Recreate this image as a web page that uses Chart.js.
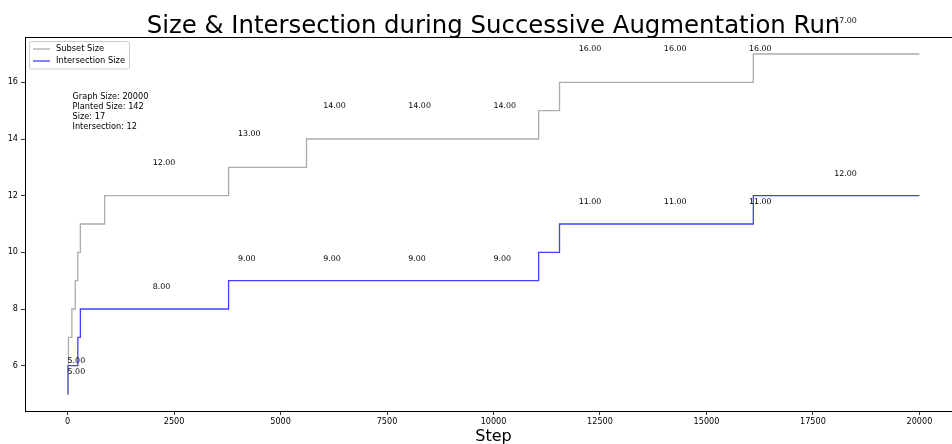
<!DOCTYPE html>
<html>
<head>
<meta charset="utf-8">
<script src="https://cdn.jsdelivr.net/npm/chart.js@4.4.0/dist/chart.umd.min.js"></script>
<style>
html,body{margin:0;padding:0;background:#fff;overflow:hidden;}
#wrap{width:952px;height:444px;overflow:hidden;position:relative;}
canvas{display:block;}
</style>
</head>
<body>
<div id="wrap"><canvas id="c" width="1000" height="444"></canvas></div>
<script>
// ---- data ----
const subsetSteps = [0, 10, 20, 100, 180, 240, 300, 870, 3780, 5610, 11060, 11550, 16100, 20000];
const subsetSizes = [5, 6, 7, 8, 9, 10, 11, 12, 13, 14, 15, 16, 17, 17];
const interSteps  = [0, 10, 240, 300, 3780, 11060, 11550, 16100, 20000];
const interSizes  = [5, 6, 7, 8, 9, 10, 11, 12, 12];
const annotSteps  = [0, 2000, 4000, 6000, 8000, 10000, 12000, 14000, 16000, 18000];
const subsetAnnot = [5, 12, 13, 14, 14, 14, 16, 16, 16, 17];
const interAnnot  = [5, 8, 9, 9, 9, 9, 11, 11, 11, 12];
const xTickVals = [0, 2500, 5000, 7500, 10000, 12500, 15000, 17500, 20000];
const yTickVals = [6, 8, 10, 12, 14, 16];
const infoLines = ["Graph Size: 20000", "Planted Size: 142", "Size: 17", "Intersection: 12"];
const titleText = "Size & Intersection during Successive Augmentation Run";
const xLabel = "Step";

const FONT = "'DejaVu Sans', sans-serif";
const GRAY = "rgba(128,128,128,0.65)";
const BLUE = "rgba(0,0,255,0.75)";

const overlay = {
  id: 'overlay',
  afterDatasetsDraw(chart) {
    const ctx = chart.ctx;
    const xs = chart.scales.x, ys = chart.scales.y;
    const a = chart.chartArea;
    ctx.save();
    // frame
    ctx.strokeStyle = '#000';
    ctx.lineWidth = 1;
    ctx.strokeRect(a.left + 0.5, a.top + 0.5, a.right - a.left, a.bottom - a.top);
    // annotations
    ctx.fillStyle = '#000';
    ctx.font = '7.9px ' + FONT;
    ctx.textAlign = 'left';
    ctx.textBaseline = 'middle';
    annotSteps.forEach((s, i) => {
      ctx.fillText(subsetAnnot[i].toFixed(2), xs.getPixelForValue(s), ys.getPixelForValue(subsetAnnot[i] + 1.17));
      ctx.fillText(interAnnot[i].toFixed(2), xs.getPixelForValue(s), ys.getPixelForValue(interAnnot[i] + 0.77));
    });
    // info text
    ctx.font = '8.2px ' + FONT;
    infoLines.forEach((t, i) => ctx.fillText(t, a.left + 47.5, 97 + i * 10));
    // legend
    ctx.fillStyle = 'rgba(255,255,255,0.8)';
    ctx.strokeStyle = '#cccccc';
    ctx.lineWidth = 1;
    ctx.beginPath();
    ctx.roundRect(29.5, 41.5, 100, 27.5, 2);
    ctx.fill(); ctx.stroke();
    const items = [[chart.data.datasets[0].label, GRAY, 49], [chart.data.datasets[1].label, BLUE, 61]];
    items.forEach(([lab, col, y]) => {
      ctx.strokeStyle = col; ctx.lineWidth = 1.3;
      ctx.beginPath(); ctx.moveTo(33, y); ctx.lineTo(50, y); ctx.stroke();
      ctx.fillStyle = '#000';
      ctx.font = '8.3px ' + FONT;
      ctx.fillText(lab, 56, y);
    });
    // title
    ctx.textAlign = 'center';
    ctx.textBaseline = 'alphabetic';
    ctx.font = '24.4px ' + FONT;
    ctx.fillText(titleText, (a.left + a.right) / 2, 33);
    ctx.font = '16px ' + FONT;
    ctx.fillText(xLabel, (a.left + a.right) / 2, 441);
    ctx.restore();
  }
};

new Chart(document.getElementById('c'), {
  type: 'line',
  data: {
    datasets: [
      { label: 'Subset Size', data: subsetSteps.map((s, i) => ({x: s, y: subsetSizes[i]})),
        borderColor: GRAY, borderWidth: 1.3, stepped: 'before', pointRadius: 0, fill: false },
      { label: 'Intersection Size', data: interSteps.map((s, i) => ({x: s, y: interSizes[i]})),
        borderColor: BLUE, borderWidth: 1.3, stepped: 'before', pointRadius: 0, fill: false }
    ]
  },
  options: {
    responsive: false,
    animation: false,
    layout: { padding: { top: 37, right: 38, bottom: 0, left: 0 } },
    plugins: { legend: { display: false }, title: { display: false }, tooltip: { enabled: false } },
    scales: {
      x: {
        type: 'linear', min: -1000, max: 21000,
        afterBuildTicks: (ax) => { ax.ticks = xTickVals.map(v => ({value: v})); },
        afterFit: (ax) => { ax.height = 33; },
        grid: { drawOnChartArea: false, drawTicks: true, tickLength: 4, tickColor: '#333', tickWidth: 1 },
        border: { display: true, color: '#000', width: 1 },
        ticks: { color: '#000', font: { family: FONT, size: 8.1 }, padding: 2, maxRotation: 0, autoSkip: false,
                 callback: (v) => String(v) }
      },
      y: {
        type: 'linear', min: 4.4, max: 17.6,
        afterBuildTicks: (ax) => { ax.ticks = yTickVals.map(v => ({value: v})); },
        afterFit: (ax) => { ax.width = 25; },
        grid: { drawOnChartArea: false, drawTicks: true, tickLength: 4, tickColor: '#333', tickWidth: 1 },
        border: { display: true, color: '#000', width: 1 },
        ticks: { color: '#000', font: { family: FONT, size: 8.1 }, padding: 3, autoSkip: false,
                 callback: (v) => String(v) }
      }
    }
  },
  plugins: [overlay]
});
</script>
</body>
</html>
